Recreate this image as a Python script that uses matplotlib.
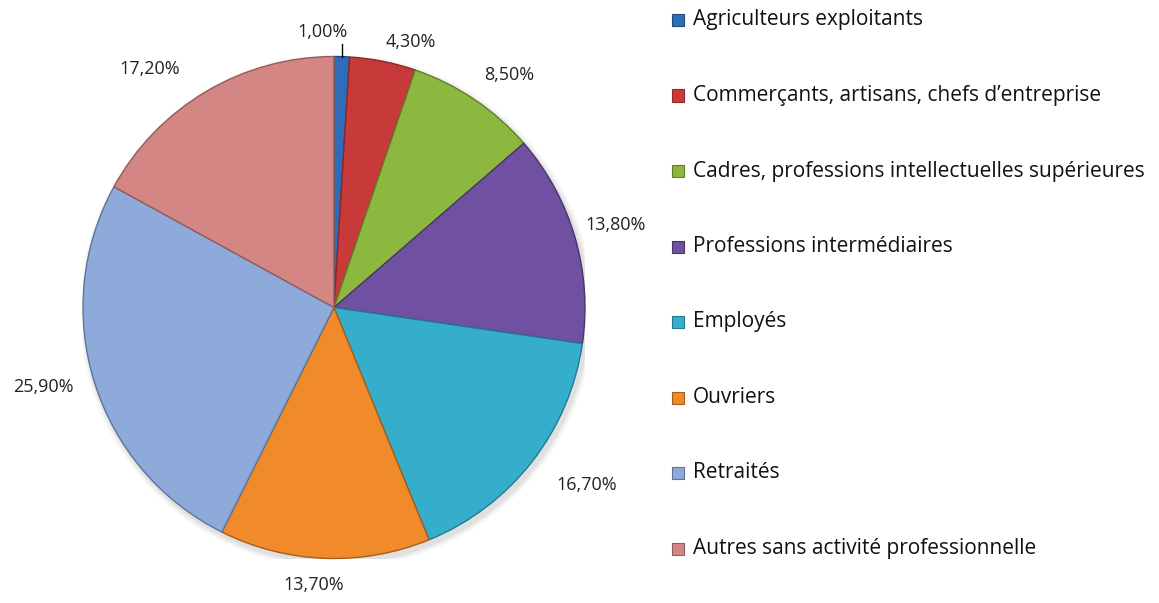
import numpy as np
import matplotlib
matplotlib.use("Agg")
import matplotlib.pyplot as plt
from matplotlib.patches import Rectangle

categories = [
    "Agriculteurs exploitants",
    "Commerçants, artisans, chefs d\u2019entreprise",
    "Cadres, professions intellectuelles supérieures",
    "Professions intermédiaires",
    "Employés",
    "Ouvriers",
    "Retraités",
    "Autres sans activité professionnelle",
]
values = [1.0, 4.3, 8.5, 13.8, 16.7, 13.7, 25.9, 17.2]
value_labels = ["1,00%", "4,30%", "8,50%", "13,80%", "16,70%", "13,70%", "25,90%", "17,20%"]

colors = ["#2F6DBA", "#C83A3A", "#8DB83F", "#7050A0", "#35AECB", "#F08A2A", "#8EAADA", "#D48684"]
edge_colors = ["#1F4A80", "#8A2828", "#5F7F2A", "#4A346C", "#237A8F", "#A85E1A", "#5F7399", "#935B5A"]
label_dist = [1.10, 1.10, 1.16, 1.17, 1.23, 1.11, 1.20, 1.20]
label_shift = [0, 5, 3, 0, -3, 2, 2, -7]  # angular nudge (degrees)

W, H = 1159, 603
fig = plt.figure(figsize=(W / 100, H / 100), dpi=100)
fig.patch.set_facecolor("white")

cx, cy, r = 334, 307.5, 251
ax = fig.add_axes([(cx - r) / W, (H - cy - r) / H, 2 * r / W, 2 * r / H])

# soft shadow
for k, a in enumerate([0.05, 0.04, 0.03]):
    ax.add_patch(plt.Circle((0.01, -0.015), 1.0 + 0.008 * (k + 1), color="black", alpha=a, lw=0, zorder=0))

wedges, _ = ax.pie(values, colors=colors, startangle=90, counterclock=False,
                   radius=1.0, wedgeprops=dict(linewidth=1.0))
for w, ec in zip(wedges, edge_colors):
    w.set_edgecolor(ec)
    w.set_zorder(2)
ax.set_xlim(-1, 1)
ax.set_ylim(-1, 1)
ax.set_aspect("equal")
ax.axis("off")

font = "Open Sans"
lab_fs = 13
for i, (w, lab) in enumerate(zip(wedges, value_labels)):
    mid = np.deg2rad((w.theta1 + w.theta2) / 2.0)
    if i == 0:
        x0, y0 = np.cos(mid), np.sin(mid)
        ax.plot([x0 * 0.997, x0 * 0.997], [y0 * 1.0, 1.05], color="black", lw=1.0, clip_on=False, zorder=5)
        ax.text(x0 + 0.025, 1.098, lab, ha="right", va="center", fontsize=lab_fs, family=font,
                color="#222222", clip_on=False)
        continue
    ang = mid + np.deg2rad(-label_shift[i])
    d = label_dist[i]
    ax.text(d * np.cos(ang), d * np.sin(ang), lab, ha="center", va="center", fontsize=lab_fs,
            family=font, color="#222222", clip_on=False)

# legend
y_first, step = 20, 75.5
for i, (lab, col) in enumerate(zip(categories, colors)):
    yp = y_first + i * step
    fig.patches.append(Rectangle(((672) / W, (H - yp - 6) / H), 12 / W, 12 / H,
                                 transform=fig.transFigure, facecolor=col,
                                 edgecolor=edge_colors[i], lw=0.8))
    fig.text(693 / W, (H - yp) / H, lab, ha="left", va="center", fontsize=15,
             family=font, color="#111111")

fig.savefig("out.png", dpi=100, facecolor="white")
